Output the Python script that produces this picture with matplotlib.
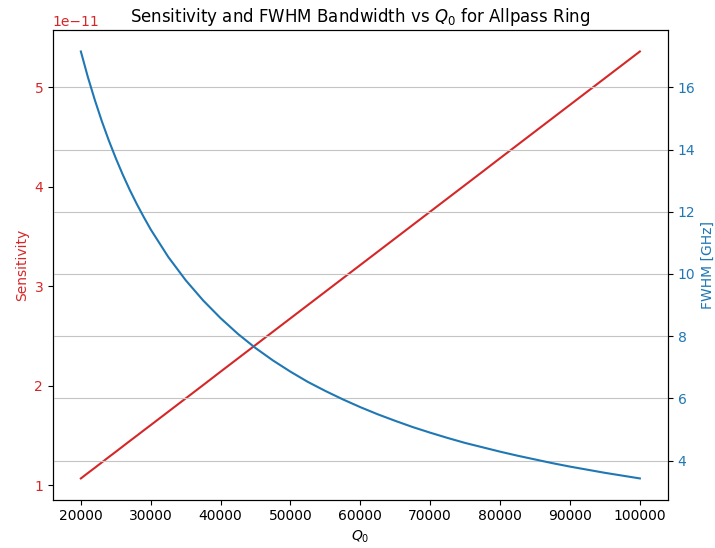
import numpy as np
import matplotlib
matplotlib.use("Agg")
import matplotlib.pyplot as plt

# values
q0 = [20000, 21000, 22000, 23000, 24000, 25000, 26000, 27000, 28000, 29000,
      30000, 32500, 35000, 37500, 40000, 42500, 45000, 47500, 50000, 52500,
      55000, 57500, 60000, 62500, 65000, 67500, 70000, 72500, 75000, 77500,
      80000, 82500, 85000, 87500, 90000, 92500, 95000, 97500, 100000]
sensitivity = [1.070, 1.124, 1.177, 1.231, 1.285, 1.338, 1.392, 1.446, 1.499,
               1.553, 1.606, 1.740, 1.874, 2.008, 2.143, 2.277, 2.411, 2.545,
               2.679, 2.813, 2.947, 3.081, 3.215, 3.349, 3.483, 3.617, 3.751,
               3.885, 4.019, 4.153, 4.288, 4.422, 4.556, 4.690, 4.824, 4.958,
               5.092, 5.226, 5.360]
sensitivity = [s * 1e-11 for s in sensitivity]
fwhm_ghz = [17.15, 16.33, 15.59, 14.91, 14.29, 13.72, 13.19, 12.70, 12.25,
            11.83, 11.43, 10.55, 9.80, 9.15, 8.58, 8.07, 7.62, 7.22, 6.86,
            6.53, 6.24, 5.97, 5.72, 5.49, 5.28, 5.08, 4.90, 4.73, 4.57, 4.43,
            4.29, 4.16, 4.04, 3.92, 3.81, 3.71, 3.61, 3.52, 3.43]

fig, ax1 = plt.subplots(figsize=(7.15, 5.48), dpi=100)

ax1.plot(q0, sensitivity, color='tab:red')
ax1.set_xlabel('$Q_0$')
ax1.set_ylabel('Sensitivity', color='tab:red')
ax1.tick_params(axis='y', labelcolor='tab:red')
ax1.yaxis.get_offset_text().set_color('tab:red')

ax2 = ax1.twinx()
ax2.plot(q0, fwhm_ghz, color='tab:blue')
ax2.set_ylabel('FWHM [GHz]', color='tab:blue')
ax2.tick_params(axis='y', labelcolor='tab:blue')
ax2.grid(True, color='#c4c4c4')

ax1.set_title('Sensitivity and FWHM Bandwidth vs $Q_0$ for Allpass Ring')
fig.subplots_adjust(left=0.074, right=0.934, top=0.945, bottom=0.088)

plt.savefig('out.png', dpi=100)
